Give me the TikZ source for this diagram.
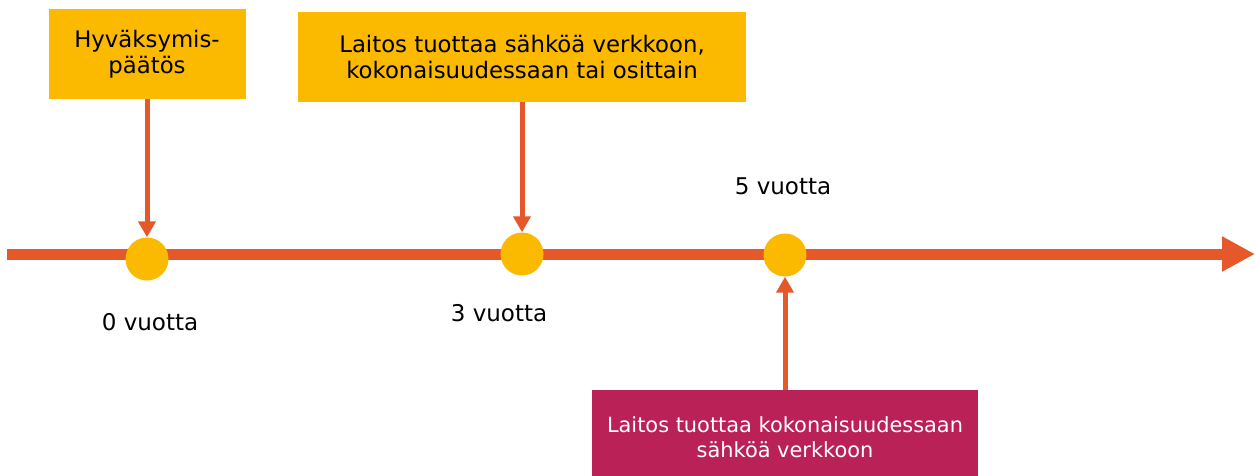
\documentclass[tikz,border=0pt]{standalone}
\usepackage{fontspec}
\setmainfont{DejaVu Sans}
\usetikzlibrary{arrows.meta}
\definecolor{timeline}{HTML}{E5582A}
\definecolor{gold}{HTML}{FBB900}
\definecolor{berry}{HTML}{BA2257}

\begin{document}
\begin{tikzpicture}[x=1pt, y=-1pt,
  event/.style={circle, fill=gold, minimum size=43pt, inner sep=0pt},
  goldbox/.style={fill=gold, align=center, minimum height=90pt, font=\fontsize{22.8}{26.5}\selectfont},
  pin/.style={draw=timeline, line width=5pt, -{Triangle[length=16pt,width=17pt]}},
  years/.style={font=\fontsize{23}{27}\selectfont}]
\useasboundingbox (0,0) rectangle (1255,475);
\coordinate (start) at (7,254);
\coordinate (end) at (1255,254);
\draw[draw=timeline, line width=11pt, -{Triangle[length=33pt,width=33pt]}] (start) -- (end);
\node[event] (t0) at (147,259) {};
\node[event] (t3) at (522,254) {};
\node[event] (t5) at (785,255) {};
\node[goldbox, minimum width=197pt] (hyv) at (147,54) {Hyväksymis-\\päätös};
\node[goldbox, minimum width=448pt] (laitos) at (522,57) {Laitos tuottaa sähköä verkkoon,\\kokonaisuudessaan tai osittain};
\node[fill=berry, text=white, align=center, minimum width=386pt, minimum height=95pt, font=\fontsize{20.9}{25}\selectfont] (koko) at (785,437.5) {Laitos tuottaa kokonaisuudessaan\\sähköä verkkoon};
\node[years] (y0) at (150,322) {0 vuotta};
\node[years] (y3) at (499,313) {3 vuotta};
\node[years] (y5) at (783,186) {5 vuotta};
\draw[pin] (hyv.south) -- (t0.north);
\draw[pin] (laitos.south) -- (t3.north);
\draw[pin] (koko.north) -- (t5.south);
\end{tikzpicture}
\end{document}
